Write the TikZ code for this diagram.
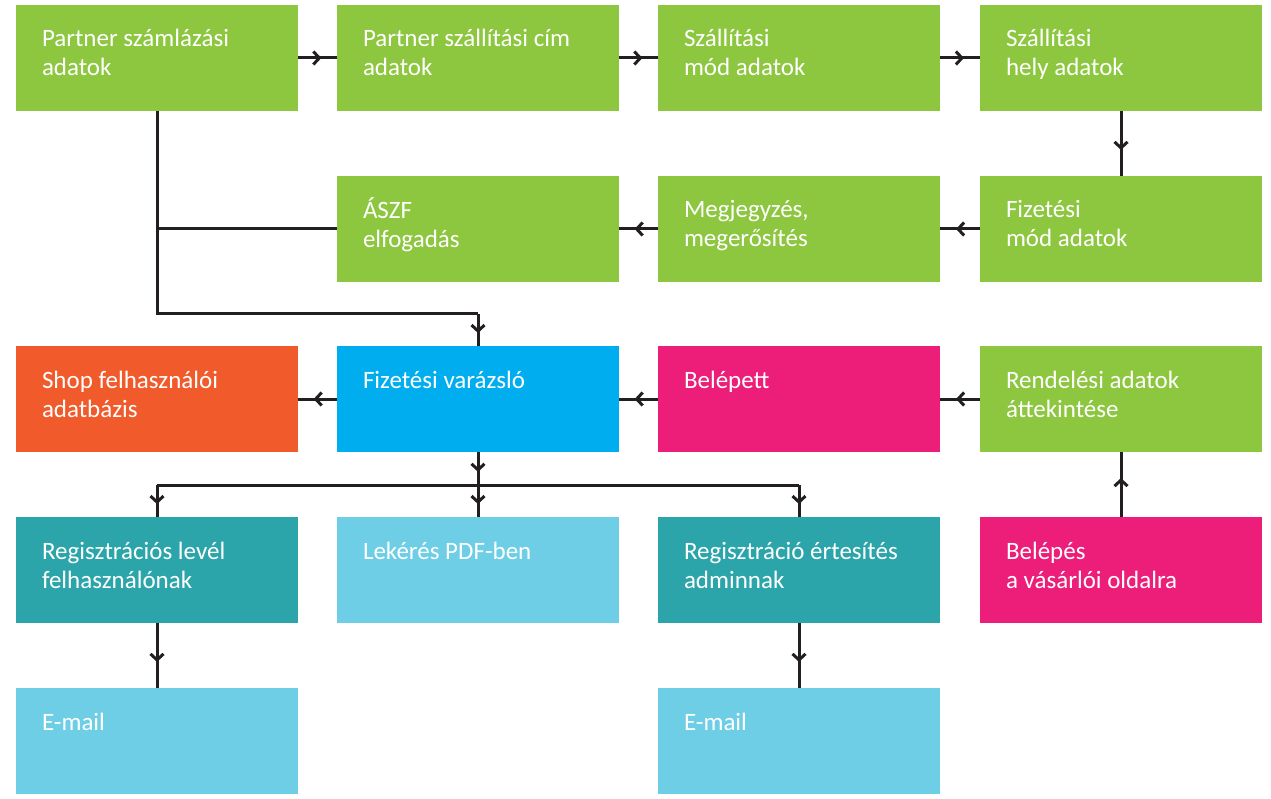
\documentclass[tikz,border=0pt]{standalone}
\usepackage{fontspec}
\setmainfont{Carlito}
\usetikzlibrary{arrows.meta,decorations.markings}
\definecolor{cgreen}{HTML}{8DC63F}
\definecolor{corange}{HTML}{F15A2B}
\definecolor{cblue}{HTML}{00AEEF}
\definecolor{cmag}{HTML}{EC1E79}
\definecolor{cteal}{HTML}{2BA5AA}
\definecolor{clight}{HTML}{6DCEE6}
\definecolor{cline}{HTML}{231F20}
\tikzset{
  box/.style={rectangle, minimum width=282pt, minimum height=106pt, inner sep=0pt, draw=none},
  lbl/.style={anchor=north west, inner sep=0pt, text=white, align=left,
              font=\fontsize{25pt}{29pt}\selectfont},
  conn/.style={line width=3pt, draw=cline, line join=miter},
  marr/.style={postaction={decorate}, decoration={markings,
     mark=at position #1 with {\arrow{Straight Barb[length=6pt,width=13pt,line width=3pt]}}}},
  marr/.default=0.6
}
\newcommand{\lstrut}{\rule{0pt}{20pt}}
\begin{document}
\begin{tikzpicture}[x=1pt,y=-1pt]
\useasboundingbox (0,0) rectangle (1271,799);
% row 1
\node[box, fill=cgreen] (b1) at (157,58) {};
\node[box, fill=cgreen] (b2) at (478,58) {};
\node[box, fill=cgreen] (b3) at (799,58) {};
\node[box, fill=cgreen] (b4) at (1121,58) {};
% row 2
\node[box, fill=cgreen] (b5) at (478,229) {};
\node[box, fill=cgreen] (b6) at (799,229) {};
\node[box, fill=cgreen] (b7) at (1121,229) {};
% row 3
\node[box, fill=corange] (b8) at (157,399) {};
\node[box, fill=cblue] (b9) at (478,399) {};
\node[box, fill=cmag] (b10) at (799,399) {};
\node[box, fill=cgreen] (b11) at (1121,399) {};
% row 4
\node[box, fill=cteal] (b12) at (157,570) {};
\node[box, fill=clight] (b13) at (478,570) {};
\node[box, fill=cteal] (b14) at (799,570) {};
\node[box, fill=cmag] (b15) at (1121,570) {};
% row 5
\node[box, fill=clight] (b16) at (157,741) {};
\node[box, fill=clight] (b17) at (799,741) {};
% labels
\node[lbl] (t1) at ([xshift=26pt,yshift=-22pt]b1.north west) {\lstrut Partner számlázási\\adatok};
\node[lbl] (t2) at ([xshift=26pt,yshift=-22pt]b2.north west) {\lstrut Partner szállítási cím\\adatok};
\node[lbl] (t3) at ([xshift=26pt,yshift=-22pt]b3.north west) {\lstrut Szállítási\\mód adatok};
\node[lbl] (t4) at ([xshift=26pt,yshift=-22pt]b4.north west) {\lstrut Szállítási\\hely adatok};
\node[lbl] (t5) at ([xshift=26pt,yshift=-22pt]b5.north west) {\lstrut ÁSZF\\elfogadás};
\node[lbl] (t6) at ([xshift=26pt,yshift=-22pt]b6.north west) {\lstrut Megjegyzés,\\megerősítés};
\node[lbl] (t7) at ([xshift=26pt,yshift=-22pt]b7.north west) {\lstrut Fizetési\\mód adatok};
\node[lbl] (t8) at ([xshift=26pt,yshift=-22pt]b8.north west) {\lstrut Shop felhasználói\\adatbázis};
\node[lbl] (t9) at ([xshift=26pt,yshift=-22pt]b9.north west) {\lstrut Fizetési varázsló};
\node[lbl] (t10) at ([xshift=26pt,yshift=-22pt]b10.north west) {\lstrut Belépett};
\node[lbl] (t11) at ([xshift=26pt,yshift=-22pt]b11.north west) {\lstrut Rendelési adatok\\áttekintése};
\node[lbl] (t12) at ([xshift=26pt,yshift=-22pt]b12.north west) {\lstrut Regisztrációs levél\\felhasználónak};
\node[lbl] (t13) at ([xshift=26pt,yshift=-22pt]b13.north west) {\lstrut Lekérés PDF-ben};
\node[lbl] (t14) at ([xshift=26pt,yshift=-22pt]b14.north west) {\lstrut Regisztráció értesítés\\adminnak};
\node[lbl] (t15) at ([xshift=26pt,yshift=-22pt]b15.north west) {\lstrut Belépés\\a vásárlói oldalra};
\node[lbl] (t16) at ([xshift=26pt,yshift=-22pt]b16.north west) {\lstrut E-mail};
\node[lbl] (t17) at ([xshift=26pt,yshift=-22pt]b17.north west) {\lstrut E-mail};
% connectors
\draw[conn, marr] (b1) -- (b2);
\draw[conn, marr] (b2) -- (b3);
\draw[conn, marr] (b3) -- (b4);
\draw[conn, marr] (b4) -- (b7);
\draw[conn, marr] (b7) -- (b6);
\draw[conn, marr] (b6) -- (b5);
\coordinate (j1) at (157,229);
\coordinate (j2) at (157,314);
\coordinate (j3) at (478,314);
\draw[conn] (b5.west) -- (j1);
\draw[conn] (b1.south) -- (j2) -- (j3);
\draw[conn, marr] (j3) -- (b9.north);
\draw[conn, marr] (b9) -- (b8);
\draw[conn, marr] (b10) -- (b9);
\draw[conn, marr] (b11) -- (b10);
\draw[conn, marr] (b15) -- (b11);
\coordinate (k0) at (478,485);
\coordinate (kL) at (157,485);
\coordinate (kR) at (799,485);
\draw[conn, marr] (b9.south) -- (k0);
\draw[conn] (kL) -- (kR);
\draw[conn, marr] (kL) -- (b12.north);
\draw[conn, marr] (k0) -- (b13.north);
\draw[conn, marr] (kR) -- (b14.north);
\draw[conn, marr] (b12) -- (b16);
\draw[conn, marr] (b14) -- (b17);
\end{tikzpicture}
\end{document}
